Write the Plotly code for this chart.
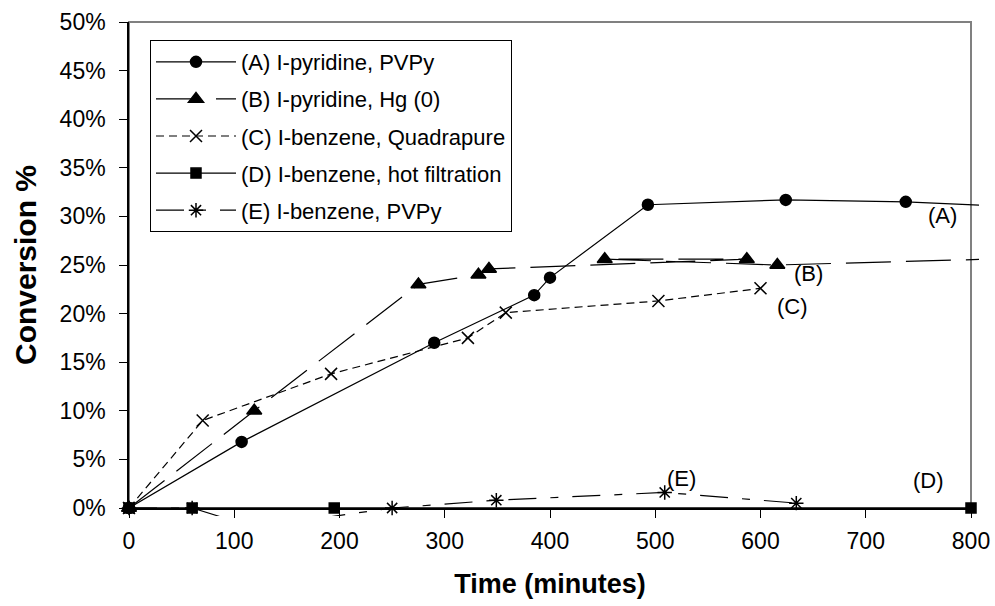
import numpy as np
import plotly.graph_objects as go

# ---- data (time in minutes, conversion as fraction) ----
a_time = [0, 107, 290, 385, 400, 493, 624, 738, 900]
a_conv = [0.0, 0.068, 0.170, 0.219, 0.237, 0.312, 0.317, 0.315, 0.307]

b_time = [0, 119, 275, 332, 342, 587, 452, 616, 900]
b_conv = [0.0, 0.100, 0.230, 0.240, 0.246, 0.256, 0.256, 0.250, 0.2585]

c_time = [0, 70, 192, 322, 358, 503, 600]
c_conv = [0.0, 0.090, 0.138, 0.175, 0.201, 0.213, 0.226]

d_time = [0, 60, 195, 800]
d_conv = [0.0, 0.0, 0.0, 0.0]

e_time = [0, 60, 120, 250, 349, 509, 634]
e_conv = [0.0, 0.0, -0.020, 0.0, 0.008, 0.016, 0.005]

series_names = [
    "(A) I-pyridine, PVPy",
    "(B) I-pyridine, Hg (0)",
    "(C) I-benzene, Quadrapure",
    "(D) I-benzene, hot filtration",
    "(E) I-benzene, PVPy",
]

curve_labels = ["(A)", "(B)", "(C)", "(D)", "(E)"]
label_time = [773, 646, 630, 760, 525]
label_conv = [0.301, 0.241, 0.207, 0.028, 0.030]

x_range = [0, 800]
y_range = [0, 0.5]

# ---- layout geometry ----
W, H = 995, 606
ML, MT = 129, 22          # plot area left/top
MAIN_W, MAIN_H = 842, 486 # plot area size
EXT = 8                   # lines may run a few px past the plot area (like Excel)
MR = W - ML - MAIN_W - EXT
MB = H - MT - MAIN_H - EXT
TOT_W, TOT_H = MAIN_W + EXT, MAIN_H + EXT

x_dom_main = [0, MAIN_W / TOT_W]
y_dom_main = [EXT / TOT_H, 1]
x2_range = [x_range[0], x_range[0] + (x_range[1] - x_range[0]) * TOT_W / MAIN_W]
y2_range = [y_range[1] - (y_range[1] - y_range[0]) * TOT_H / MAIN_H, y_range[1]]

# ---- styles ----
styles = [
    dict(dash="solid", symbol="circle", size=11),
    dict(dash="45px,15px", symbol="triangle-up", size=13),
    dict(dash="8px,5px", symbol="x-thin-open", size=12),
    dict(dash="solid", symbol="square", size=10),
    dict(dash="28px,14px,8px,14px", symbol="asterisk-open", size=12),
]

data = [(a_time, a_conv), (b_time, b_conv), (c_time, c_conv),
        (d_time, d_conv), (e_time, e_conv)]

FONT = "Liberation Sans, Arial"

fig = go.Figure()
for i, ((xs, ys), name, st) in enumerate(zip(data, series_names, styles)):
    xs = np.array(xs, dtype=float)
    ys = np.array(ys, dtype=float)
    line = dict(color="black", width=1.2, dash=st["dash"])
    marker = dict(symbol=st["symbol"], size=st["size"], color="black",
                  line=dict(color="black", width=1.5))
    # line (on the slightly larger overlay subplot so it can run past the frame)
    fig.add_trace(go.Scatter(x=xs, y=ys, mode="lines", line=line, xaxis="x2", yaxis="y2",
                             showlegend=False, hoverinfo="skip"))
    # markers only for points inside the axis ranges, not clipped
    vis = (ys >= y_range[0]) & (ys <= y_range[1]) & (xs >= x_range[0]) & (xs <= x_range[1])
    fig.add_trace(go.Scatter(x=xs[vis], y=ys[vis], mode="markers", marker=marker,
                             cliponaxis=False, showlegend=False))
    # legend entry
    fig.add_trace(go.Scatter(x=[None], y=[None], mode="lines+markers", name=name,
                             line=line, marker=marker, legendgroup=f"g{i}"))

for txt, xt, yt in zip(curve_labels, label_time, label_conv):
    fig.add_annotation(x=xt, y=yt, text=txt, showarrow=False,
                       font=dict(family=FONT, size=22, color="black"))

# gray plot-area border
fig.add_shape(type="rect", xref="x domain", yref="y domain", x0=0, x1=1, y0=0, y1=1,
              line=dict(color="#808080", width=2), layer="below")

fig.update_layout(
    width=W, height=H,
    margin=dict(l=ML, r=MR, t=MT, b=MB, autoexpand=False),
    paper_bgcolor="white", plot_bgcolor="rgba(0,0,0,0)",
    font=dict(family=FONT, color="black", size=20),
    legend=dict(x=(150 - ML) / TOT_W, y=(MT + TOT_H - 40) / TOT_H,
                xanchor="left", yanchor="top",
                bgcolor="white", bordercolor="black", borderwidth=1,
                font=dict(size=22), traceorder="grouped", tracegroupgap=5.5,
                itemwidth=80),
    xaxis=dict(domain=x_dom_main, range=x_range, dtick=100, tick0=0, showgrid=False,
               zeroline=False, showline=True, linecolor="black", linewidth=1.5,
               ticks="outside", ticklen=8, tickcolor="black", ticklabelstandoff=4,
               tickfont=dict(size=23), anchor="y", automargin=False,
               title=dict(text="<b>Time (minutes)</b>", font=dict(size=27), standoff=21)),
    yaxis=dict(domain=y_dom_main, range=y_range, dtick=0.05, tick0=0, tickformat=".0%",
               showgrid=False, zeroline=False, showline=True, linecolor="black",
               linewidth=1.5, ticks="outside", ticklen=8, tickcolor="black",
               ticklabelstandoff=9, tickfont=dict(size=23), anchor="x", automargin=False,
               title=dict(text="<b>Conversion %</b>", font=dict(size=30), standoff=14)),
    xaxis2=dict(domain=[0, 1], range=x2_range, visible=False, anchor="y2", automargin=False),
    yaxis2=dict(domain=[0, 1], range=y2_range, visible=False, anchor="x2", automargin=False),
)

fig.write_html("out.html")
